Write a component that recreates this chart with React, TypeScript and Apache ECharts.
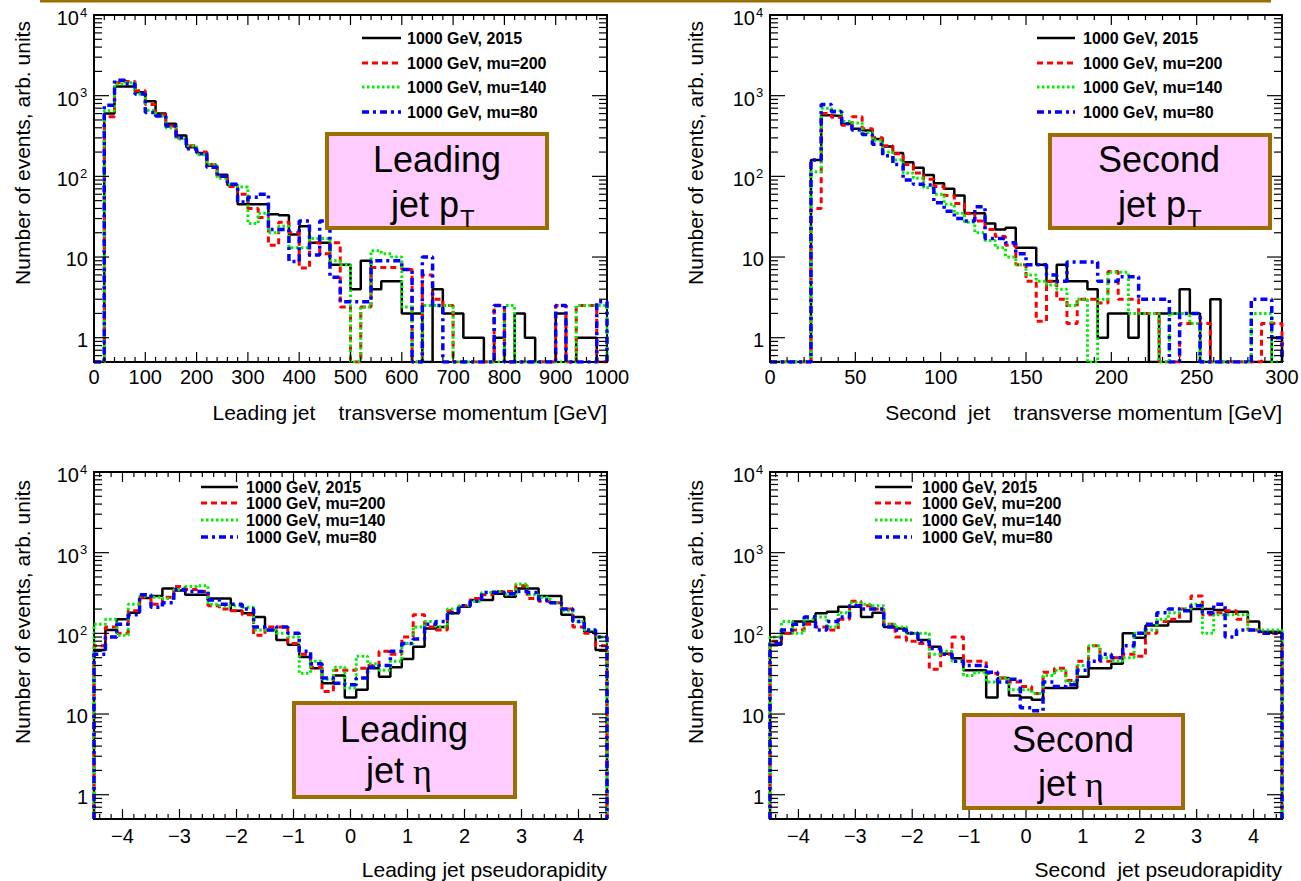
import React, { useEffect, useRef } from "react";
import * as echarts from "echarts";

// ---------------- data ----------------
const SERIES_NAMES = ["1000 GeV, 2015", "1000 GeV, mu=200", "1000 GeV, mu=140", "1000 GeV, mu=80"];

const Y_MIN = 0.5;
const Y_MAX = 10000;
const Y_DECADE_LABELS = [1, 10, 100, 1000, 10000];

// Leading jet pT : 50 bins of 20 GeV from 0
const LEAD_PT_BINS = { lo: 0, width: 20 };
const LEAD_PT_2015 = [0, 600, 1300, 1300, 1100, 850, 600, 450, 320, 230, 195, 135, 105, 78, 45, 45, 45, 34, 33, 19, 24, 15, 15, 8, 8, 4, 9, 4, 5, 5, 2, 2, 0, 4, 2, 2, 1, 1, 0, 1, 0, 2, 1, 0, 0, 2, 0, 1, 1, 0];
const LEAD_PT_MU200 = [0, 550, 1450, 1500, 1150, 780, 580, 420, 300, 240, 200, 140, 100, 75, 60, 40, 31, 14, 27, 20, 7.3, 15, 11, 15, 2.4, 0, 2.4, 7.4, 7.4, 7.4, 7, 0, 6, 3, 2.5, 0, 0, 0, 0, 2.5, 0, 0, 0, 0, 0, 2.5, 0, 2.5, 2.5, 0];
const LEAD_PT_MU140 = [0, 650, 1400, 1450, 1050, 660, 560, 400, 290, 240, 185, 140, 95, 80, 74, 26, 35, 20, 24, 13, 13, 17, 17, 9, 8, 0, 2.4, 12, 11, 10, 2.4, 0, 2.5, 2.5, 2.5, 0, 0, 0, 0, 0, 2.5, 0, 0, 0, 0, 0, 0, 2.5, 2.5, 2.5];
const LEAD_PT_MU80 = [0, 760, 1550, 1400, 1050, 620, 560, 420, 300, 220, 190, 130, 100, 80, 48, 55, 60, 22, 22, 8.8, 28, 10.6, 28, 5.6, 2.8, 2.8, 2.8, 9, 9, 9, 7, 0, 10, 2.5, 0, 0, 0, 0, 0, 2.5, 0, 0, 0, 0, 0, 2.5, 0, 0, 0, 2.8];

// Second jet pT : 50 bins of 6 GeV from 0
const SUB_PT_BINS = { lo: 0, width: 6 };
const SUB_PT_2015 = [0, 0, 0, 0, 160, 570, 560, 450, 390, 370, 290, 235, 195, 150, 128, 104, 82, 70, 58, 35, 35, 26, 22, 23, 13, 13, 8, 5, 8, 5, 5, 4, 1, 2, 2, 1, 2, 0, 2, 2, 4, 2, 0, 3, 0, 0, 0, 0, 0, 1];
const SUB_PT_MU200 = [0, 0, 0, 0, 40, 600, 540, 430, 550, 390, 300, 240, 190, 140, 110, 92, 75, 58, 46, 35, 28, 22, 18, 14, 8, 5, 1.6, 5, 3, 1.5, 3, 3, 2.7, 6.6, 3, 3, 2, 2, 0, 0, 1.5, 1.5, 1.5, 0, 0, 0, 0, 0, 1.5, 1.5];
const SUB_PT_MU140 = [0, 0, 0, 0, 114, 700, 650, 480, 460, 350, 280, 200, 160, 110, 95, 72, 60, 45, 35, 27, 20, 16, 13, 10, 8, 6, 5, 4.5, 4, 2.5, 3, 0, 3, 6.5, 6.5, 2, 2, 2, 0, 2, 2, 1.5, 0, 0, 0, 0, 0, 2, 2, 0];
const SUB_PT_MU80 = [0, 0, 0, 0, 160, 780, 630, 450, 375, 330, 250, 180, 140, 90, 80, 78, 47, 37, 30, 28, 42, 17, 17, 15, 11, 8, 8, 6, 5, 8.7, 8.7, 8.7, 5, 5, 5.7, 5.7, 3, 3, 3, 0, 2, 2, 0, 0, 0, 0, 0, 3, 3, 1];

// Leading jet eta : 45 bins of 0.2 from -4.5
const ETA_BINS = { lo: -4.5, width: 0.2 };
const LEAD_ETA_2015 = [62, 110, 150, 180, 275, 290, 360, 340, 300, 300, 270, 270, 190, 177, 160, 110, 83, 72, 51, 37, 24, 30, 16, 20, 37, 29, 38, 48, 68, 115, 120, 177, 214, 260, 260, 310, 284, 360, 360, 290, 290, 170, 160, 105, 62];
const LEAD_ETA_MU200 = [70, 120, 100, 190, 280, 230, 280, 380, 350, 330, 220, 200, 190, 170, 95, 120, 120, 75, 55, 38, 19, 35, 35, 37, 40, 60, 55, 90, 170, 120, 110, 190, 220, 270, 300, 330, 330, 390, 270, 250, 240, 200, 120, 100, 70];
const LEAD_ETA_MU140 = [130, 150, 95, 230, 290, 280, 270, 350, 380, 390, 230, 220, 220, 210, 110, 110, 100, 90, 32, 45, 27, 38, 21, 52, 42, 35, 45, 75, 120, 140, 120, 200, 220, 250, 320, 330, 300, 410, 300, 280, 240, 190, 140, 110, 90];
const LEAD_ETA_MU80 = [55, 90, 130, 170, 300, 210, 240, 350, 330, 330, 260, 230, 230, 200, 120, 110, 120, 100, 60, 42, 28, 24, 23, 28, 38, 40, 60, 75, 85, 130, 140, 180, 220, 250, 320, 320, 310, 330, 320, 260, 240, 200, 140, 110, 90];

// Second jet eta : 45 bins of 0.2 from -4.5
const SUB_ETA_2015 = [72, 100, 140, 140, 177, 185, 214, 214, 160, 180, 120, 115, 100, 83, 68, 56, 49, 35, 35, 16, 28, 17, 16, 15, 21, 21, 21, 29, 37, 37, 42, 100, 88, 125, 125, 140, 140, 200, 200, 195, 185, 185, 140, 105, 105];
const SUB_ETA_MU200 = [80, 100, 110, 130, 120, 110, 150, 250, 220, 200, 130, 90, 80, 75, 36, 55, 90, 45, 45, 32, 28, 25, 22, 18, 33, 37, 26, 45, 70, 45, 50, 55, 52, 100, 140, 150, 200, 290, 170, 180, 190, 150, 110, 100, 100];
const SUB_ETA_MU140 = [90, 140, 100, 150, 160, 120, 180, 240, 230, 220, 130, 120, 100, 100, 55, 60, 45, 30, 33, 25, 28, 20, 20, 18, 30, 35, 25, 40, 70, 50, 45, 50, 100, 110, 150, 180, 200, 230, 100, 170, 170, 170, 110, 110, 110];
const SUB_ETA_MU80 = [75, 110, 130, 160, 110, 140, 160, 220, 200, 200, 120, 110, 100, 80, 65, 55, 45, 40, 40, 33, 25, 27, 12, 11, 25, 22, 23, 35, 45, 55, 50, 70, 100, 130, 180, 200, 190, 220, 180, 230, 90, 110, 110, 100, 100];

// ---------------- styles / layout ----------------
const FONT = '"Liberation Sans", Arial, Helvetica, sans-serif';
const GOLD = "#9c6e00";
const PINK = "#ffccff";
const SERIES_STYLES = [
  { color: "#000000", width: 2.5, type: "solid" as any },
  { color: "#ff0000", width: 3, type: [6, 4] as any },
  { color: "#00ee00", width: 3, type: [2.5, 2.5] as any },
  { color: "#0000ff", width: 3.5, type: [7, 4, 3, 4] as any },
];

const PANELS = [
  {
    grid: { left: 94, top: 15, width: 513, height: 347 },
    xMin: 0, xMax: 1000, majorStep: 100, minorStep: 20, labelDy: 5,
    bins: LEAD_PT_BINS, series: [LEAD_PT_2015, LEAD_PT_MU200, LEAD_PT_MU140, LEAD_PT_MU80],
    xTitle: "Leading jet    transverse momentum [GeV]", xTitleY: 412,
    yTitle: { x: 22, y: 153 },
    legend: { x1: 362, x2: 401, tx: 407, ys: [38, 63, 87, 112] },
    box: { x: 327, y: 134, w: 220, h: 94 },
    boxText: { line1: "Leading", cx: 437, y1: 159, jetRight: 459, y2: 204, sub: "T", subY: 218, eta: false },
  },
  {
    grid: { left: 770, top: 15, width: 512, height: 347 },
    xMin: 0, xMax: 300, majorStep: 50, minorStep: 10, labelDy: 5,
    bins: SUB_PT_BINS, series: [SUB_PT_2015, SUB_PT_MU200, SUB_PT_MU140, SUB_PT_MU80],
    xTitle: "Second  jet    transverse momentum [GeV]", xTitleY: 412,
    yTitle: { x: 695, y: 153 },
    legend: { x1: 1037, x2: 1075, tx: 1083, ys: [38, 63, 87, 112] },
    box: { x: 1050, y: 135, w: 220, h: 93 },
    boxText: { line1: "Second", cx: 1159, y1: 159, jetRight: 1186, y2: 204, sub: "T", subY: 218, eta: false },
  },
  {
    grid: { left: 94, top: 472, width: 513, height: 347 },
    xMin: -4.5, xMax: 4.5, majorStep: 1, minorStep: 0.2, labelDy: 7,
    bins: ETA_BINS, series: [LEAD_ETA_2015, LEAD_ETA_MU200, LEAD_ETA_MU140, LEAD_ETA_MU80],
    xTitle: "Leading jet pseudorapidity", xTitleY: 869,
    yTitle: { x: 22, y: 612 },
    legend: { x1: 201, x2: 238, tx: 246, ys: [487, 503, 520, 537] },
    box: { x: 294, y: 703, w: 221, h: 94 },
    boxText: { line1: "Leading", cx: 404, y1: 729, jetRight: 404, y2: 770, sub: "", subY: 0, eta: true },
  },
  {
    grid: { left: 770, top: 472, width: 512, height: 347 },
    xMin: -4.5, xMax: 4.5, majorStep: 1, minorStep: 0.2, labelDy: 7,
    bins: ETA_BINS, series: [SUB_ETA_2015, SUB_ETA_MU200, SUB_ETA_MU140, SUB_ETA_MU80],
    xTitle: "Second  jet pseudorapidity", xTitleY: 869,
    yTitle: { x: 695, y: 612 },
    legend: { x1: 875, x2: 912, tx: 922, ys: [487, 503, 520, 537] },
    box: { x: 964, y: 715, w: 219, h: 93 },
    boxText: { line1: "Second", cx: 1073, y1: 739, jetRight: 1076, y2: 783, sub: "", subY: 0, eta: true },
  },
];

// ---------------- helpers ----------------
function stepPoints(bins: { lo: number; width: number }, values: number[]) {
  const pts: number[][] = [[bins.lo, Y_MIN]];
  values.forEach((v, i) => {
    const y = Math.max(v, Y_MIN);
    pts.push([bins.lo + i * bins.width, y]);
    pts.push([bins.lo + (i + 1) * bins.width, y]);
  });
  pts.push([bins.lo + values.length * bins.width, Y_MIN]);
  return pts;
}

function fmtX(v: number) {
  const r = Math.round(v * 1000) / 1000;
  if (r < 0) return "\u2212" + String(-r);
  return String(r);
}

function txt(x: number, y: number, text: string, font: string, align: string, valign: string, extra: any = {}) {
  return {
    type: "text",
    x,
    y,
    ...extra,
    style: { text, font, fill: "#000", align, verticalAlign: valign, textAlign: align, textVerticalAlign: valign },
  };
}

function makeAxisRenderer(p: any) {
  return function (_params: any, api: any) {
    const children: any[] = [];
    const [xl, yb] = api.coord([p.xMin, Y_MIN]);
    const [xr, yt] = api.coord([p.xMax, Y_MAX]);
    const lineStyle = { stroke: "#000", lineWidth: 1.2 };
    // x ticks
    const i0 = Math.ceil(p.xMin / p.minorStep - 1e-6);
    const i1 = Math.floor(p.xMax / p.minorStep + 1e-6);
    for (let i = i0; i <= i1; i++) {
      const v = i * p.minorStep;
      const q = v / p.majorStep;
      const major = Math.abs(q - Math.round(q)) < 1e-6;
      const [px] = api.coord([v, Y_MIN]);
      const len = major ? 10 : 5;
      children.push({ type: "line", shape: { x1: px, y1: yb, x2: px, y2: yb - len }, style: lineStyle });
      children.push({ type: "line", shape: { x1: px, y1: yt, x2: px, y2: yt + len }, style: lineStyle });
      if (major) {
        children.push(txt(px, yb + p.labelDy, fmtX(v), "20px " + FONT, "center", "top"));
      }
    }
    // y ticks (log)
    for (let k = -1; k <= 4; k++) {
      for (let m = 1; m <= 9; m++) {
        const v = m * Math.pow(10, k);
        if (v < Y_MIN - 1e-9 || v > Y_MAX + 1e-9) continue;
        const major = m === 1;
        const [, py] = api.coord([p.xMin, v]);
        const len = major ? 15 : 8;
        children.push({ type: "line", shape: { x1: xl, y1: py, x2: xl + len, y2: py }, style: lineStyle });
        children.push({ type: "line", shape: { x1: xr, y1: py, x2: xr - len, y2: py }, style: lineStyle });
      }
    }
    Y_DECADE_LABELS.forEach((v) => {
      const [, py] = api.coord([p.xMin, v]);
      const exp = Math.round(Math.log10(v));
      if (exp <= 1) {
        children.push(txt(xl - 6, py + 2, String(v), "20px " + FONT, "right", "middle"));
      } else {
        children.push(txt(xl - 15, py + 3, "10", "20px " + FONT, "right", "middle"));
        children.push(txt(xl - 14, py - 3, String(exp), "13px " + FONT, "left", "middle"));
      }
    });
    return { type: "group", children };
  };
}

// ---------------- component ----------------
export default function App() {
  const ref = useRef<HTMLDivElement>(null);

  useEffect(() => {
    if (!ref.current) return;
    const chart = echarts.init(ref.current, undefined, { renderer: "svg" });

    const grids: any[] = [];
    const xAxes: any[] = [];
    const yAxes: any[] = [];
    const series: any[] = [];
    const graphic: any[] = [];

    graphic.push({ type: "line", shape: { x1: 40, y1: 1, x2: 1271, y2: 1 }, style: { stroke: GOLD, lineWidth: 3 } });

    PANELS.forEach((p, pi) => {
      grids.push({ ...p.grid, show: true, borderColor: "#000", borderWidth: 2, backgroundColor: "transparent", containLabel: false });
      xAxes.push({
        type: "value", gridIndex: pi, min: p.xMin, max: p.xMax,
        axisLine: { show: false }, axisTick: { show: false }, axisLabel: { show: false }, splitLine: { show: false },
      });
      yAxes.push({
        type: "log", gridIndex: pi, min: Y_MIN, max: Y_MAX, logBase: 10,
        axisLine: { show: false }, axisTick: { show: false }, axisLabel: { show: false }, splitLine: { show: false },
      });
      p.series.forEach((vals, si) => {
        const st = SERIES_STYLES[si];
        series.push({
          type: "line",
          name: SERIES_NAMES[si],
          xAxisIndex: pi,
          yAxisIndex: pi,
          data: stepPoints(p.bins, vals),
          showSymbol: false,
          symbol: "none",
          silent: true,
          z: 2 + si,
          lineStyle: { color: st.color, width: st.width, type: st.type, cap: "butt" },
          itemStyle: { color: st.color },
        });
      });
      series.push({
        type: "custom",
        xAxisIndex: pi,
        yAxisIndex: pi,
        data: [[p.xMin, 1]],
        clip: false,
        silent: true,
        z: 10,
        renderItem: makeAxisRenderer(p),
      });

      // axis titles
      graphic.push(txt(p.grid.left + p.grid.width, p.xTitleY, p.xTitle, "21px " + FONT, "right", "middle"));
      graphic.push(txt(p.yTitle.x, p.yTitle.y, "Number of events, arb. units", "21px " + FONT, "center", "middle", { rotation: Math.PI / 2 }));

      // legend
      SERIES_NAMES.forEach((name, si) => {
        const st = SERIES_STYLES[si];
        const y = p.legend.ys[si];
        graphic.push({
          type: "line",
          shape: { x1: p.legend.x1, y1: y, x2: p.legend.x2, y2: y },
          style: { stroke: st.color, lineWidth: st.width, lineDash: st.type === "solid" ? null : st.type },
        });
        graphic.push(txt(p.legend.tx, y, name, "bold 16px " + FONT, "left", "middle"));
      });

      // annotation box
      graphic.push({
        type: "rect",
        shape: { x: p.box.x, y: p.box.y, width: p.box.w, height: p.box.h },
        style: { fill: PINK, stroke: GOLD, lineWidth: 4 },
        z: 20,
      });
      const bt = p.boxText;
      graphic.push({ ...txt(bt.cx, bt.y1, bt.line1, "36px " + FONT, "center", "middle"), z: 21 });
      if (bt.eta) {
        graphic.push({ ...txt(bt.jetRight, bt.y2, "jet", "36px " + FONT, "right", "middle"), z: 21 });
        graphic.push({ ...txt(bt.jetRight + 9, bt.y2 + 2, "\u03b7", '36px "Liberation Serif", "Times New Roman", serif', "left", "middle"), z: 21 });
      } else {
        graphic.push({ ...txt(bt.jetRight, bt.y2, "jet p", "36px " + FONT, "right", "middle"), z: 21 });
        graphic.push({ ...txt(bt.jetRight + 1, bt.subY, bt.sub, "24px " + FONT, "left", "middle"), z: 21 });
      }
    });

    chart.setOption({
      animation: false,
      backgroundColor: "#ffffff",
      grid: grids,
      xAxis: xAxes,
      yAxis: yAxes,
      series,
      graphic: { elements: graphic },
    });

    return () => chart.dispose();
  }, []);

  return (
    <div
      ref={ref}
      style={{ position: "absolute", left: 0, top: 0, width: "1301px", height: "881px", background: "#fff" }}
    />
  );
}
